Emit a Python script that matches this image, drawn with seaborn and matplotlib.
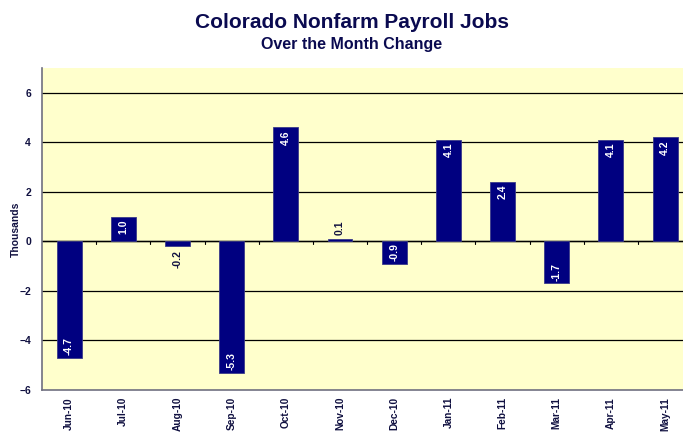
import numpy as np
import pandas as pd
import matplotlib
matplotlib.use("Agg")
import matplotlib.pyplot as plt
import seaborn as sns

# data
months = ["Jun-10", "Jul-10", "Aug-10", "Sep-10", "Oct-10", "Nov-10",
          "Dec-10", "Jan-11", "Feb-11", "Mar-11", "Apr-11", "May-11"]
change = [-4.7, 1.0, -0.2, -5.3, 4.6, 0.1, -0.9, 4.1, 2.4, -1.7, 4.1, 4.2]

df = pd.DataFrame({"month": months, "change": change})

sns.set_style("white")
plt.rcParams["font.family"] = ["Liberation Sans", "DejaVu Sans"]

navy = "#000080"
title_col = "#0A0A50"

fig = plt.figure(figsize=(6.83, 4.34), dpi=100)
ax = fig.add_axes([42 / 683, 1 - 390 / 434, 641 / 683, (390 - 68) / 434])
ax.set_facecolor("#FFFFCC")

sns.barplot(data=df, x="month", y="change", color=navy, width=0.46,
            saturation=1, edgecolor="#3A3A8A", linewidth=0.6, ax=ax, zorder=3)

ax.set_ylim(-6, 7)
ax.set_xlim(-0.5, 11.33)
ax.set_yticks(range(-6, 7, 2))
for y in range(-4, 7, 2):
    ax.axhline(y, color="black", lw=0.9, zorder=1)
ax.axhline(0, color="black", lw=1.0, zorder=2)

# tick marks between categories on the zero line
for xb in np.arange(len(months) - 1) + 0.5:
    ax.plot([xb, xb], [0, -0.12], color="black", lw=0.8, zorder=2)

for s in ["top", "right"]:
    ax.spines[s].set_visible(False)
for s in ["left", "bottom"]:
    ax.spines[s].set_color("#707080")
    ax.spines[s].set_linewidth(1.2)

ax.tick_params(axis="y", length=0, labelsize=7.5, pad=8, labelcolor="#101040")
ax.tick_params(axis="x", length=0, labelsize=7.3, pad=5, labelcolor="#101040")
for t in ax.get_yticklabels() + ax.get_xticklabels():
    t.set_fontweight("bold")
plt.setp(ax.get_xticklabels(), rotation=90)
ax.set_xlabel("")
ax.set_ylabel("Thousands", fontsize=7.5, fontweight="bold", color="#101040")
ax.yaxis.set_label_coords(-0.033, 0.5)

# value labels
for i, v in enumerate(change):
    txt = f"{v:.1f}"
    if abs(v) >= 0.9:
        y = v - 0.12 if v > 0 else v + 0.12
        va = "top" if v > 0 else "bottom"
        ax.text(i, y, txt, rotation=90, ha="center", va=va, color="white",
                fontsize=7.5, fontweight="bold", zorder=4)
    else:
        y = v + 0.15 if v > 0 else v - 0.15
        va = "bottom" if v > 0 else "top"
        ax.text(i, y, txt, rotation=90, ha="center", va=va, color="#101040",
                fontsize=7.5, fontweight="bold", zorder=4)

fig.text(0.515, 1 - 22 / 434, "Colorado Nonfarm Payroll Jobs", ha="center", va="center",
         fontsize=15, fontweight="bold", color=title_col)
fig.text(0.515, 1 - 45 / 434, "Over the Month Change", ha="center", va="center",
         fontsize=11.5, fontweight="bold", color=title_col)

fig.savefig("out.png", dpi=100)
